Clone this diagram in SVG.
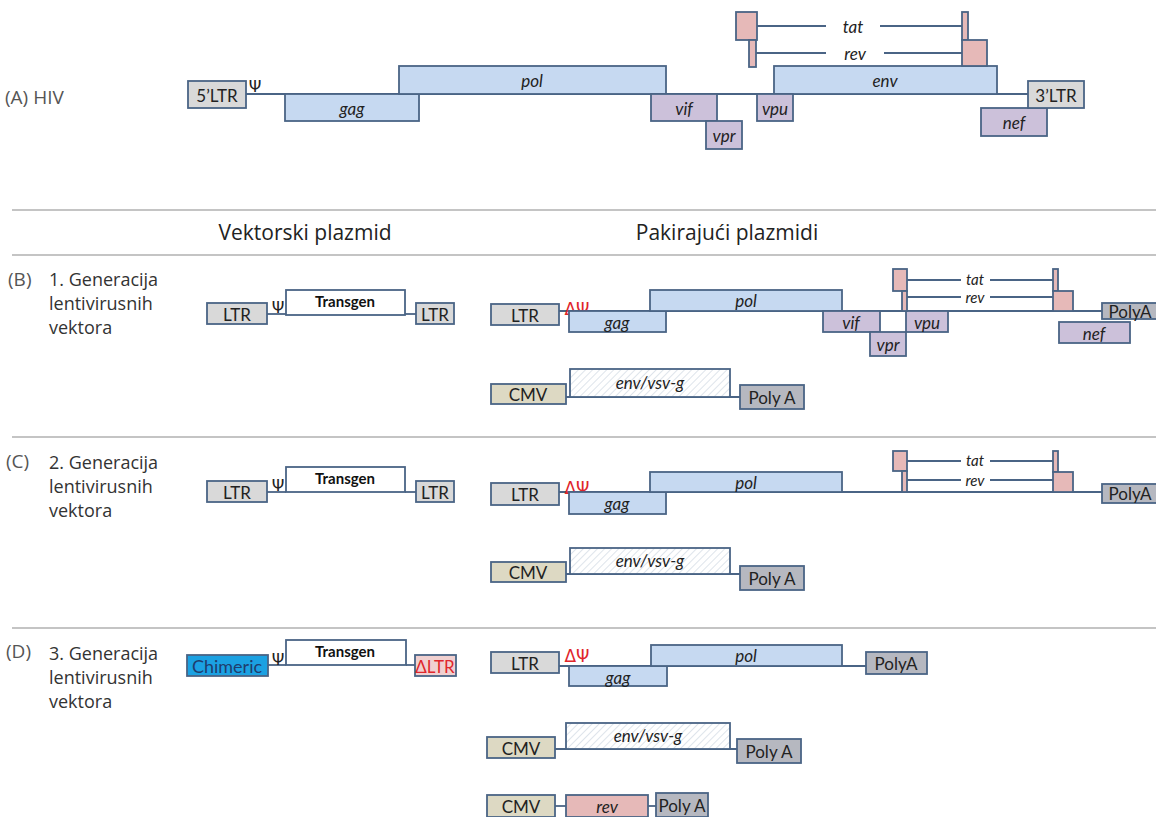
<svg xmlns="http://www.w3.org/2000/svg" width="1156" height="817" viewBox="0 0 1156 817">
<defs>
<pattern id="hatch" width="5" height="5" patternUnits="userSpaceOnUse" patternTransform="rotate(45)">
<rect width="5" height="5" fill="#ffffff"/>
<line x1="0" y1="0" x2="0" y2="5" stroke="#c9d2de" stroke-width="1.2"/>
</pattern>
<style>
.bx{stroke:#4a6485;stroke-width:1.8}
.ltr{fill:#d9d9d9}
.gene{fill:#c6d9f1}
.acc{fill:#ccc1da}
.pink{fill:#e6b9b8}
.cmv{fill:#ddd9c3}
.pa{fill:#b6b8c0}
.wh{fill:#ffffff}
.ht{fill:url(#hatch)}
.chim{fill:#1ba1e2}
.dltr{fill:#f0d0d0}
.ln{stroke:#4a6485;stroke-width:1.8;fill:none}
.sep{stroke:#c4c4c4;stroke-width:2}
.lb{font-family:Lato,"Liberation Sans",sans-serif;font-size:17px;fill:#222;text-anchor:middle;dominant-baseline:central}
.sm{font-size:15px}
.it{font-style:italic}
.tg{font-family:Lato,"Liberation Sans",sans-serif;font-size:15px;font-weight:bold;fill:#111;text-anchor:middle;dominant-baseline:central}
.psi{font-family:"DejaVu Sans",sans-serif;font-size:16px;fill:#222;text-anchor:middle;dominant-baseline:central}
.dpsi{font-family:"DejaVu Sans",sans-serif;font-size:17px;fill:#e0262b;text-anchor:middle;dominant-baseline:central}
.hd{font-family:"Open Sans",sans-serif;font-size:21px;fill:#222;dominant-baseline:central}
.sec{font-family:"Open Sans",sans-serif;font-size:18px;fill:#333;dominant-baseline:central}
.secl{font-family:"Open Sans",sans-serif;font-size:19px;fill:#555;dominant-baseline:central}
</style>
</defs>
<rect width="1156" height="817" fill="#ffffff"/>

<!-- separators and headings -->
<g id="layout">
<line class="sep" x1="12" y1="210" x2="1156" y2="210"/>
<line class="sep" x1="12" y1="255" x2="1156" y2="255"/>
<line class="sep" x1="12" y1="437" x2="1156" y2="437"/>
<line class="sep" x1="12" y1="628" x2="1156" y2="628"/>
<text class="hd" x="305" y="232" text-anchor="middle">Vektorski plazmid</text>
<text class="hd" x="727" y="232" text-anchor="middle">Pakirajući plazmidi</text>
<text class="secl" x="5" y="97">(A) HIV</text>
<text class="secl" x="8" y="279">(B)</text>
<text class="sec" x="49" y="279">1. Generacija</text>
<text class="sec" x="49" y="303">lentivirusnih</text>
<text class="sec" x="49" y="327">vektora</text>
<text class="secl" x="6" y="461">(C)</text>
<text class="sec" x="49" y="462">2. Generacija</text>
<text class="sec" x="49" y="486">lentivirusnih</text>
<text class="sec" x="49" y="510">vektora</text>
<text class="secl" x="6" y="651">(D)</text>
<text class="sec" x="49" y="653">3. Generacija</text>
<text class="sec" x="49" y="677">lentivirusnih</text>
<text class="sec" x="49" y="701">vektora</text>
</g>

<!-- connectors -->
<g id="connectors">
<!-- A -->
<line class="ln" x1="246" y1="94" x2="1028" y2="94"/>
<line class="ln" x1="757" y1="26" x2="826" y2="26"/>
<line class="ln" x1="880" y1="26" x2="962" y2="26"/>
<line class="ln" x1="756" y1="53" x2="826" y2="53"/>
<line class="ln" x1="884" y1="53" x2="962" y2="53"/>
<!-- B vector -->
<line class="ln" x1="267" y1="314" x2="286" y2="314"/>
<line class="ln" x1="405" y1="314" x2="416" y2="314"/>
<!-- B packaging -->
<line class="ln" x1="559" y1="311" x2="1102" y2="311"/>
<line class="ln" x1="907" y1="280" x2="961" y2="280"/>
<line class="ln" x1="990" y1="280" x2="1053" y2="280"/>
<line class="ln" x1="907" y1="297" x2="961" y2="297"/>
<line class="ln" x1="990" y1="297" x2="1053" y2="297"/>
<line class="ln" x1="566" y1="397" x2="740" y2="397"/>
<!-- C vector -->
<line class="ln" x1="267" y1="492" x2="286" y2="492"/>
<line class="ln" x1="405" y1="492" x2="416" y2="492"/>
<!-- C packaging -->
<line class="ln" x1="559" y1="492" x2="1102" y2="492"/>
<line class="ln" x1="907" y1="461" x2="961" y2="461"/>
<line class="ln" x1="990" y1="461" x2="1053" y2="461"/>
<line class="ln" x1="907" y1="480" x2="961" y2="480"/>
<line class="ln" x1="990" y1="480" x2="1053" y2="480"/>
<line class="ln" x1="566" y1="574" x2="740" y2="574"/>
<!-- D vector -->
<line class="ln" x1="268" y1="665" x2="286" y2="665"/>
<line class="ln" x1="406" y1="665" x2="415" y2="665"/>
<!-- D packaging -->
<line class="ln" x1="559" y1="666" x2="866" y2="666"/>
<line class="ln" x1="555" y1="749" x2="737" y2="749"/>
<line class="ln" x1="555" y1="806" x2="566" y2="806"/>
<line class="ln" x1="648" y1="806" x2="656" y2="806"/>
</g>

<!-- Section A: HIV genome -->
<g id="a-5ltr"><rect class="bx ltr" x="188" y="81" width="58" height="27"/><text class="lb" x="217" y="95">5’LTR</text></g>
<g id="a-psi"><text class="psi" x="255" y="86">Ψ</text></g>
<g id="a-gag"><rect class="bx gene" x="285" y="94" width="134" height="27"/><text class="lb it" x="352" y="108">gag</text></g>
<g id="a-pol"><rect class="bx gene" x="399" y="66" width="267" height="28"/><text class="lb it" x="532" y="80">pol</text></g>
<g id="a-vif"><rect class="bx acc" x="651" y="94" width="66" height="27"/><text class="lb it" x="684" y="108">vif</text></g>
<g id="a-vpr"><rect class="bx acc" x="706" y="121" width="36" height="28"/><text class="lb it" x="724" y="135">vpr</text></g>
<g id="a-env"><rect class="bx gene" x="774" y="66" width="223" height="28"/><text class="lb it" x="885" y="80">env</text></g>
<g id="a-vpu"><rect class="bx acc" x="757" y="94" width="36" height="27"/><text class="lb it" x="775" y="108">vpu</text></g>
<g id="a-tat"><rect class="bx pink" x="736" y="12" width="21" height="28"/><rect class="bx pink" x="962" y="12" width="6" height="28"/><text class="lb it" x="853" y="26">tat</text></g>
<g id="a-rev"><rect class="bx pink" x="749" y="40" width="7" height="27"/><rect class="bx pink" x="962" y="40" width="25" height="26"/><text class="lb it" x="855" y="53">rev</text></g>
<g id="a-nef"><rect class="bx acc" x="981" y="108" width="66" height="28"/><text class="lb it" x="1014" y="122">nef</text></g>
<g id="a-3ltr"><rect class="bx ltr" x="1028" y="81" width="56" height="27"/><text class="lb" x="1056" y="95">3’LTR</text></g>

<!-- Section B: vector -->
<g id="b-ltr1"><rect class="bx ltr" x="207" y="303" width="60" height="21"/><text class="lb" x="237" y="314">LTR</text></g>
<g id="b-psi"><text class="psi" x="278" y="307">Ψ</text></g>
<g id="b-transgen"><rect class="bx wh" x="286" y="290" width="119" height="25"/><text class="tg" x="345" y="301">Transgen</text></g>
<g id="b-ltr2"><rect class="bx ltr" x="416" y="303" width="38" height="21"/><text class="lb" x="435" y="314">LTR</text></g>
<!-- Section B: packaging -->
<g id="b-ltr"><rect class="bx ltr" x="491" y="304" width="68" height="21"/><text class="lb" x="525" y="315">LTR</text></g>
<g id="b-dpsi"><text class="dpsi" x="577" y="309">ΔΨ</text></g>
<g id="b-gag"><rect class="bx gene" x="569" y="311" width="97" height="21"/><text class="lb it" x="617" y="322">gag</text></g>
<g id="b-pol"><rect class="bx gene" x="650" y="290" width="192" height="21"/><text class="lb it" x="746" y="300">pol</text></g>
<g id="b-vif"><rect class="bx acc" x="823" y="311" width="57" height="21"/><text class="lb it" x="851" y="322">vif</text></g>
<g id="b-vpr"><rect class="bx acc" x="870" y="332" width="36" height="24"/><text class="lb it" x="888" y="344">vpr</text></g>
<g id="b-vpu"><rect class="bx acc" x="906" y="311" width="42" height="21"/><text class="lb it" x="927" y="322">vpu</text></g>
<g id="b-tat"><rect class="bx pink" x="893" y="269" width="14" height="22"/><rect class="bx pink" x="1053" y="269" width="5" height="22"/><text class="lb sm it" x="975" y="279">tat</text></g>
<g id="b-rev"><rect class="bx pink" x="902" y="291" width="5" height="20"/><rect class="bx pink" x="1053" y="291" width="20" height="20"/><text class="lb sm it" x="975" y="297">rev</text></g>
<g id="b-nef"><rect class="bx acc" x="1059" y="322" width="71" height="21"/><text class="lb it" x="1094" y="333">nef</text></g>
<g id="b-polya"><rect class="bx pa" x="1102" y="303" width="56" height="16"/><text class="lb" x="1130" y="311">PolyA</text></g>
<g id="b-cmv"><rect class="bx cmv" x="491" y="384" width="75" height="20"/><text class="lb" x="528" y="394">CMV</text></g>
<g id="b-env"><rect class="bx ht" x="570" y="369" width="160" height="28"/><text class="lb it" x="650" y="382">env/vsv-g</text></g>
<g id="b-polya2"><rect class="bx pa" x="740" y="385" width="64" height="24"/><text class="lb" x="772" y="397">Poly A</text></g>

<!-- Section C: vector -->
<g id="c-ltr1"><rect class="bx ltr" x="207" y="481" width="60" height="21"/><text class="lb" x="237" y="492">LTR</text></g>
<g id="c-psi"><text class="psi" x="278" y="485">Ψ</text></g>
<g id="c-transgen"><rect class="bx wh" x="286" y="467" width="119" height="25"/><text class="tg" x="345" y="478">Transgen</text></g>
<g id="c-ltr2"><rect class="bx ltr" x="416" y="481" width="38" height="21"/><text class="lb" x="435" y="492">LTR</text></g>
<!-- Section C: packaging -->
<g id="c-ltr"><rect class="bx ltr" x="491" y="483" width="68" height="22"/><text class="lb" x="525" y="494">LTR</text></g>
<g id="c-dpsi"><text class="dpsi" x="577" y="488">ΔΨ</text></g>
<g id="c-gag"><rect class="bx gene" x="569" y="492" width="97" height="22"/><text class="lb it" x="617" y="503">gag</text></g>
<g id="c-pol"><rect class="bx gene" x="650" y="472" width="192" height="20"/><text class="lb it" x="746" y="482">pol</text></g>
<g id="c-tat"><rect class="bx pink" x="893" y="451" width="14" height="20"/><rect class="bx pink" x="1053" y="451" width="5" height="21"/><text class="lb sm it" x="975" y="460">tat</text></g>
<g id="c-rev"><rect class="bx pink" x="902" y="471" width="5" height="21"/><rect class="bx pink" x="1053" y="472" width="20" height="20"/><text class="lb sm it" x="975" y="480">rev</text></g>
<g id="c-polya"><rect class="bx pa" x="1102" y="484" width="56" height="19"/><text class="lb" x="1130" y="493">PolyA</text></g>
<g id="c-cmv"><rect class="bx cmv" x="491" y="562" width="75" height="20"/><text class="lb" x="528" y="572">CMV</text></g>
<g id="c-env"><rect class="bx ht" x="570" y="548" width="160" height="26"/><text class="lb it" x="650" y="560">env/vsv-g</text></g>
<g id="c-polya2"><rect class="bx pa" x="740" y="566" width="64" height="24"/><text class="lb" x="772" y="578">Poly A</text></g>

<!-- Section D: vector -->
<g id="d-chimeric"><rect class="bx chim" x="187" y="655" width="81" height="21"/><text class="lb" x="227" y="666" style="fill:#1f3d6e;font-size:18px">Chimeric</text></g>
<g id="d-psi"><text class="psi" x="278" y="659">Ψ</text></g>
<g id="d-transgen"><rect class="bx wh" x="286" y="640" width="120" height="25"/><text class="tg" x="345" y="651">Transgen</text></g>
<g id="d-dltr"><rect class="bx dltr" x="415" y="655" width="41" height="21"/><text class="lb" x="435" y="666" style="fill:#e0262b">ΔLTR</text></g>
<!-- Section D: packaging -->
<g id="d-ltr"><rect class="bx ltr" x="491" y="652" width="68" height="21"/><text class="lb" x="525" y="663">LTR</text></g>
<g id="d-dpsi"><text class="dpsi" x="577" y="656">ΔΨ</text></g>
<g id="d-gag"><rect class="bx gene" x="569" y="666" width="98" height="20"/><text class="lb it" x="618" y="677">gag</text></g>
<g id="d-pol"><rect class="bx gene" x="651" y="645" width="191" height="21"/><text class="lb it" x="746" y="655">pol</text></g>
<g id="d-polya"><rect class="bx pa" x="866" y="652" width="61" height="22"/><text class="lb" x="896" y="663">PolyA</text></g>
<g id="d-cmv1"><rect class="bx cmv" x="487" y="737" width="68" height="21"/><text class="lb" x="521" y="748">CMV</text></g>
<g id="d-env"><rect class="bx ht" x="566" y="723" width="164" height="26"/><text class="lb it" x="648" y="735">env/vsv-g</text></g>
<g id="d-polya2"><rect class="bx pa" x="737" y="739" width="64" height="24"/><text class="lb" x="769" y="751">Poly A</text></g>
<g id="d-cmv2"><rect class="bx cmv" x="487" y="795" width="68" height="22"/><text class="lb" x="521" y="806">CMV</text></g>
<g id="d-rev"><rect class="bx pink" x="566" y="795" width="82" height="22"/><text class="lb it" x="607" y="806">rev</text></g>
<g id="d-polya3"><rect class="bx pa" x="656" y="793" width="52" height="24"/><text class="lb" x="682" y="805">Poly A</text></g>
</svg>
